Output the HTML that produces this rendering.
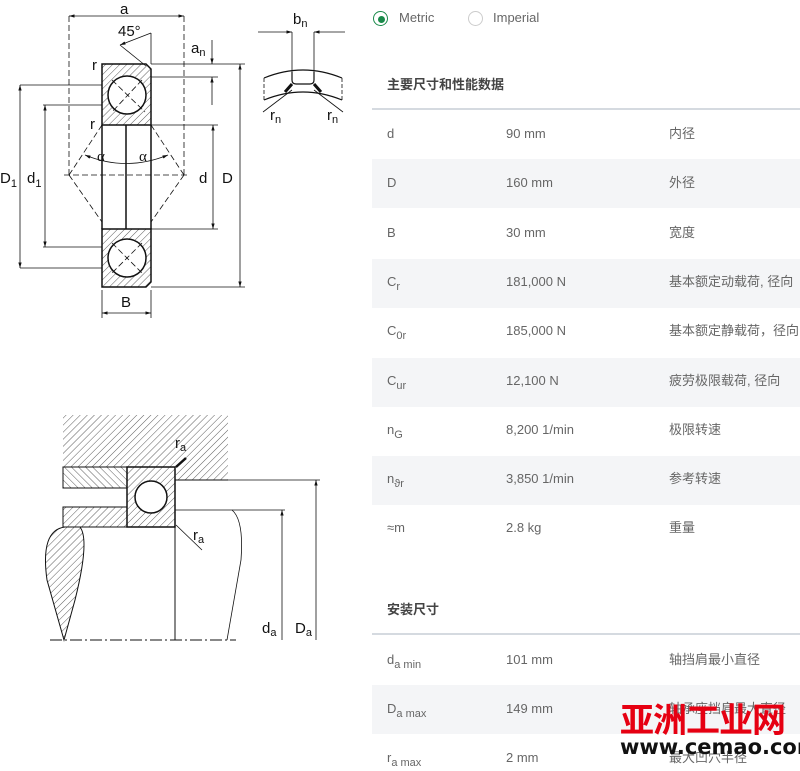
<!DOCTYPE html>
<html><head><meta charset="utf-8">
<style>
body{margin:0;width:800px;height:764px;overflow:hidden;background:#fff;font-family:"Liberation Sans","Noto Sans CJK SC",sans-serif;position:relative}
.t{position:absolute;font-size:13px;color:#666;white-space:nowrap;line-height:16px}
.row{position:absolute;left:372px;width:428px;background:#f4f5f7}
.line{position:absolute;left:372px;width:428px;height:2px;background:#d5dae0}
sub{font-size:11px;vertical-align:-4px}
.h{position:absolute;font-size:13px;color:#444;font-weight:bold;left:387px}
</style></head><body>
<svg width="370" height="764" style="position:absolute;left:0;top:0" font-family="Liberation Sans, sans-serif">
<defs>
<pattern id="h" width="5" height="5" patternUnits="userSpaceOnUse" patternTransform="rotate(45)"><line x1="0" y1="0" x2="0" y2="5" stroke="#333" stroke-width="0.8"/></pattern>
<pattern id="h2" width="5" height="5" patternUnits="userSpaceOnUse" patternTransform="rotate(-45)"><line x1="0" y1="0" x2="0" y2="5" stroke="#333" stroke-width="0.8"/></pattern>
<marker id="a" viewBox="0 0 10 10" refX="10" refY="5" markerWidth="7" markerHeight="7" orient="auto-start-reverse"><path d="M0,2 L10,5 L0,8z" fill="#111"/></marker>
</defs>
<g stroke="#111" fill="none" stroke-width="1">
<!-- bearing sections -->
<path d="M102,64 H146 L151,69 V125 H102 Z" fill="url(#h)" stroke-width="1.5"/>
<path d="M102,229 H151 V282 L146,287 H102 Z" fill="url(#h)" stroke-width="1.5"/>
<circle cx="127" cy="95" r="19" fill="#fff" stroke-width="1.5"/>
<circle cx="127" cy="258" r="19" fill="#fff" stroke-width="1.5"/>
<line x1="102" y1="125" x2="102" y2="229" stroke-width="1.5"/>
<line x1="151" y1="125" x2="151" y2="229" stroke-width="1.5"/>
<line x1="126" y1="125" x2="126" y2="229" stroke-width="1.5"/>
<g stroke-dasharray="6,3" stroke-width="0.8">
<line x1="69" y1="16" x2="69" y2="175"/><line x1="184" y1="16" x2="184" y2="175"/>
<line x1="64" y1="175" x2="190" y2="175"/>
<line x1="69" y1="175" x2="102" y2="125"/><line x1="184" y1="175" x2="151" y2="125"/>
<line x1="69" y1="175" x2="102" y2="222"/><line x1="184" y1="175" x2="151" y2="222"/>
<line x1="112" y1="80" x2="145" y2="112"/><line x1="142" y1="80" x2="112" y2="112"/>
<line x1="112" y1="243" x2="142" y2="273"/><line x1="142" y1="243" x2="112" y2="273"/>
</g>
<g stroke-width="0.8">
<line x1="69" y1="16" x2="184" y2="16" marker-start="url(#a)" marker-end="url(#a)"/>
<line x1="151" y1="33" x2="151" y2="64"/><line x1="120" y1="45" x2="151" y2="33" marker-start="url(#a)"/>
<line x1="120" y1="45" x2="146" y2="66"/>
<line x1="151" y1="64" x2="245" y2="64"/><line x1="151" y1="287" x2="245" y2="287"/>
<line x1="240" y1="64" x2="240" y2="287" marker-start="url(#a)" marker-end="url(#a)"/>
<line x1="151" y1="77" x2="218" y2="77"/>
<line x1="212" y1="40" x2="212" y2="64" marker-end="url(#a)"/><line x1="212" y1="105" x2="212" y2="77" marker-end="url(#a)"/>
<line x1="151" y1="125" x2="218" y2="125"/><line x1="151" y1="229" x2="218" y2="229"/>
<line x1="213" y1="125" x2="213" y2="229" marker-start="url(#a)" marker-end="url(#a)"/>
<line x1="20" y1="85" x2="102" y2="85"/><line x1="20" y1="268" x2="102" y2="268"/>
<line x1="20" y1="85" x2="20" y2="268" marker-start="url(#a)" marker-end="url(#a)"/>
<line x1="43" y1="105" x2="102" y2="105"/><line x1="43" y1="247" x2="102" y2="247"/>
<line x1="45" y1="105" x2="45" y2="247" marker-start="url(#a)" marker-end="url(#a)"/>
<line x1="102" y1="290" x2="102" y2="318"/><line x1="151" y1="290" x2="151" y2="318"/>
<line x1="102" y1="313" x2="151" y2="313" marker-start="url(#a)" marker-end="url(#a)"/>
<path d="M85,155 Q126,172 168,155" marker-start="url(#a)" marker-end="url(#a)"/>
</g>
<!-- small detail -->
<g stroke-width="0.8">
<line x1="258" y1="32" x2="292" y2="32" marker-end="url(#a)"/><line x1="345" y1="32" x2="314" y2="32" marker-end="url(#a)"/>
<line x1="292" y1="32" x2="292" y2="72"/><line x1="314" y1="32" x2="314" y2="72"/>
<path d="M264,78 Q303,62 342,78" stroke-width="1.2"/>
<path d="M264,100 Q303,84 342,100" stroke-width="1.2"/>
<path d="M292,72 V80 Q292,84 296,84 H310 Q314,84 314,80 V72" stroke-width="1.2"/>
<path d="M285,92 L292,84 M321,92 L314,84" stroke-width="3"/>
<line x1="263" y1="112" x2="292" y2="90"/><line x1="343" y1="112" x2="314" y2="90"/>
<line x1="264" y1="78" x2="264" y2="100" stroke-dasharray="4,2"/><line x1="342" y1="78" x2="342" y2="100" stroke-dasharray="4,2"/>
</g>
<!-- lower diagram -->
<rect x="63" y="415" width="165" height="52" fill="url(#h)" stroke="none"/>
<rect x="63" y="467" width="64" height="21" fill="url(#h2)"/>
<rect x="63" y="507" width="64" height="20" fill="url(#h)"/>
<rect x="127" y="467" width="48" height="60" fill="url(#h)" stroke-width="1.5"/>
<rect x="175" y="467" width="53" height="13" fill="url(#h)" stroke="none"/>
<line x1="175" y1="480" x2="228" y2="480"/>
<circle cx="151" cy="497" r="16" fill="#fff" stroke-width="1.5"/>
<line x1="175" y1="480" x2="320" y2="480" stroke-width="0.8"/>
<line x1="175" y1="510" x2="285" y2="510" stroke-width="0.8"/>
<line x1="316" y1="640" x2="316" y2="480" marker-end="url(#a)" stroke-width="0.8"/>
<line x1="282" y1="640" x2="282" y2="510" marker-end="url(#a)" stroke-width="0.8"/>
<line x1="175" y1="527" x2="175" y2="640"/>
<path d="M232,510 Q244,520 241,560 L227,640" stroke-width="0.8"/>
<path d="M65,527 Q40,530 47,580 L64,640 L75,600 Q90,540 80,527 Z" fill="url(#h)"/>
<line x1="50" y1="640" x2="236" y2="640" stroke-dasharray="12,3,2,3"/>
<line x1="176" y1="525" x2="202" y2="550" stroke-width="0.8"/>
<line x1="176" y1="467" x2="186" y2="458" stroke-width="2.5"/>
</g>
<g fill="#111" font-size="15">
<text x="120" y="14">a</text><text x="118" y="36">45°</text>
<text x="191" y="53">a<tspan font-size="11" dy="3">n</tspan></text>
<text x="92" y="70">r</text><text x="90" y="129">r</text>
<text x="97" y="161" font-family="Liberation Serif">α</text><text x="139" y="161" font-family="Liberation Serif">α</text>
<text x="0" y="183">D<tspan font-size="11" dy="4">1</tspan></text>
<text x="27" y="183">d<tspan font-size="11" dy="4">1</tspan></text>
<text x="199" y="183">d</text><text x="222" y="183">D</text>
<text x="121" y="307">B</text>
<text x="293" y="24">b<tspan font-size="11" dy="3">n</tspan></text>
<text x="270" y="120">r<tspan font-size="11" dy="3">n</tspan></text>
<text x="327" y="120">r<tspan font-size="11" dy="3">n</tspan></text>
<text x="175" y="448">r<tspan font-size="11" dy="3">a</tspan></text>
<text x="193" y="540">r<tspan font-size="11" dy="3">a</tspan></text>
<text x="262" y="633">d<tspan font-size="11" dy="3">a</tspan></text>
<text x="295" y="633">D<tspan font-size="11" dy="3">a</tspan></text>
</g>
</svg>

<div style="position:absolute;left:373px;top:11px;width:13px;height:13px;border:1.5px solid #1a8a4a;border-radius:50%"></div>
<div style="position:absolute;left:377.5px;top:15.5px;width:7px;height:7px;background:#1a8a4a;border-radius:50%"></div>
<div class="t" style="left:399px;top:10px">Metric</div>
<div style="position:absolute;left:468px;top:11px;width:13px;height:13px;border:1.5px solid #ccc;border-radius:50%"></div>
<div class="t" style="left:493px;top:10px">Imperial</div>

<div class="h" style="top:74px">主要尺寸和性能数据</div>
<div class="line" style="top:108px"></div>
<div class="row" style="top:159px;height:49px"></div>
<div class="row" style="top:259px;height:49px"></div>
<div class="row" style="top:358px;height:49px"></div>
<div class="row" style="top:456px;height:49px"></div>

<div class="t" style="left:387px;top:126px">d</div><div class="t" style="left:506px;top:126px">90 mm</div><div class="t" style="left:669px;top:126px">内径</div>
<div class="t" style="left:387px;top:175px">D</div><div class="t" style="left:506px;top:175px">160 mm</div><div class="t" style="left:669px;top:175px">外径</div>
<div class="t" style="left:387px;top:225px">B</div><div class="t" style="left:506px;top:225px">30 mm</div><div class="t" style="left:669px;top:225px">宽度</div>
<div class="t" style="left:387px;top:274px">C<sub>r</sub></div><div class="t" style="left:506px;top:274px">181,000 N</div><div class="t" style="left:669px;top:274px">基本额定动载荷, 径向</div>
<div class="t" style="left:387px;top:323px">C<sub>0r</sub></div><div class="t" style="left:506px;top:323px">185,000 N</div><div class="t" style="left:669px;top:323px">基本额定静载荷，径向</div>
<div class="t" style="left:387px;top:373px">C<sub>ur</sub></div><div class="t" style="left:506px;top:373px">12,100 N</div><div class="t" style="left:669px;top:373px">疲劳极限载荷, 径向</div>
<div class="t" style="left:387px;top:422px">n<sub>G</sub></div><div class="t" style="left:506px;top:422px">8,200 1/min</div><div class="t" style="left:669px;top:422px">极限转速</div>
<div class="t" style="left:387px;top:471px">n<sub>ϑr</sub></div><div class="t" style="left:506px;top:471px">3,850 1/min</div><div class="t" style="left:669px;top:471px">参考转速</div>
<div class="t" style="left:387px;top:520px">≈m</div><div class="t" style="left:506px;top:520px">2.8 kg</div><div class="t" style="left:669px;top:520px">重量</div>

<div class="h" style="top:599px">安装尺寸</div>
<div class="line" style="top:633px"></div>
<div class="row" style="top:685px;height:49px"></div>
<div class="t" style="left:387px;top:652px">d<sub>a min</sub></div><div class="t" style="left:506px;top:652px">101 mm</div><div class="t" style="left:669px;top:652px">轴挡肩最小直径</div>
<div class="t" style="left:387px;top:701px">D<sub>a max</sub></div><div class="t" style="left:506px;top:701px">149 mm</div><div class="t" style="left:669px;top:701px">轴承座挡肩最大直径</div>
<div class="t" style="left:387px;top:750px">r<sub>a max</sub></div><div class="t" style="left:506px;top:750px">2 mm</div><div class="t" style="left:669px;top:750px">最大凹穴半径</div>

<div style="position:absolute;left:620px;top:700px;font-size:34px;font-weight:bold;color:#e60012;letter-spacing:-1px;line-height:36px;font-family:'Noto Sans CJK SC',sans-serif">亚洲工业网</div>
<div style="position:absolute;left:620px;top:736px;font-size:21px;font-weight:bold;color:#111;line-height:22px;font-family:'DejaVu Sans',sans-serif">www.cemao.com</div>
</body></html>
